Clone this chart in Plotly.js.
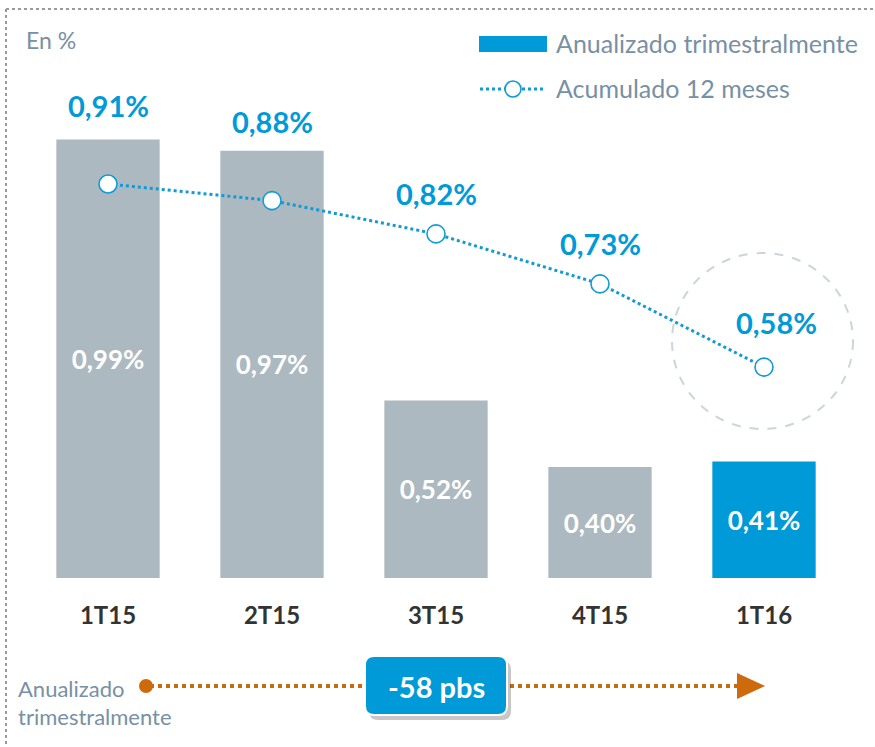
<!DOCTYPE html>
<html>
<head>
<meta charset="utf-8">
<script src="https://cdn.plot.ly/plotly-3.0.1.min.js"></script>
<style>html,body{margin:0;padding:0;background:#fff;}#chart{width:875px;height:747px;}</style>
</head>
<body>
<div id="chart"></div>
<script>
// ---- data ----
const categories = ['1T15', '2T15', '3T15', '4T15', '1T16'];
const quarterlyAnnualized = [0.99, 0.97, 0.52, 0.40, 0.41];
const cumulative12m = [0.91, 0.88, 0.82, 0.73, 0.58];
const seriesNames = ['Anualizado trimestralmente', 'Acumulado 12 meses'];
const changeLabel = '-58 pbs';
const unitLabel = 'En %';
const bottomLabelLines = ['Anualizado', 'trimestralmente'];

// ---- style ----
const GRAY_BAR = '#adb9c1';
const BLUE = '#009ad8';
const LINE_BLUE = '#109bd7';
const TEXT_GRAY = '#7890a5';
const ORANGE = '#cc6a0c';
const FONT = 'Lato, "Open Sans", sans-serif';
const AXIS_BASE = 0.2;
// label offsets in pixels (styling only)
const labelDy = [-78, -79, -40, -40, -45];
const labelDx = [0, 0, 0, 0, 12];

const fmt = v => v.toFixed(2).replace('.', ',') + '%';

// plot area geometry
const W = 875, H = 747;
const mL = 26, mR = 29, mT = 30, mB = 169;
const pw = W - mL - mR, ph = H - mT - mB;
const px = x => (x - mL) / pw;          // pixel x -> paper
const py = y => (H - mB - y) / ph;      // pixel y -> paper

const barColors = categories.map((c, i) => i === categories.length - 1 ? BLUE : GRAY_BAR);

const bars = {
  type: 'bar', x: categories,
  y: quarterlyAnnualized.map(v => v - AXIS_BASE), base: AXIS_BASE,
  name: seriesNames[0],
  marker: {color: barColors, line: {width: 0}},
  width: 0.63,
  text: quarterlyAnnualized.map(fmt),
  textposition: 'inside', insidetextanchor: 'middle', textangle: 0,
  constraintext: 'none',
  textfont: {family: FONT, size: 26, color: '#ffffff', weight: 'bold'},
  hoverinfo: 'skip', cliponaxis: false
};

const line = {
  type: 'scatter', mode: 'lines+markers', x: categories, y: cumulative12m,
  name: seriesNames[1],
  line: {color: LINE_BLUE, width: 3, dash: 'dot'},
  marker: {size: 18, color: '#ffffff', line: {color: LINE_BLUE, width: 1.6}},
  hoverinfo: 'skip', cliponaxis: false
};

const annotations = [];
cumulative12m.forEach((v, i) => {
  annotations.push({
    x: categories[i], y: v, xref: 'x', yref: 'y', text: '<b>' + fmt(v) + '</b>',
    showarrow: false, yshift: -labelDy[i], xshift: labelDx[i],
    font: {family: FONT, size: 29, color: BLUE}
  });
});
annotations.push({xref: 'paper', yref: 'paper', x: px(24), y: py(40), xanchor: 'left', yanchor: 'middle',
  text: unitLabel, showarrow: false, font: {family: FONT, size: 23, color: TEXT_GRAY}});
annotations.push({xref: 'paper', yref: 'paper', x: px(554), y: py(43), xanchor: 'left', yanchor: 'middle',
  text: seriesNames[0], showarrow: false, font: {family: FONT, size: 25, color: TEXT_GRAY}});
annotations.push({xref: 'paper', yref: 'paper', x: px(554), y: py(88), xanchor: 'left', yanchor: 'middle',
  text: seriesNames[1], showarrow: false, font: {family: FONT, size: 25, color: TEXT_GRAY}});
annotations.push({xref: 'paper', yref: 'paper', x: px(16), y: py(688), xanchor: 'left', yanchor: 'middle',
  text: bottomLabelLines[0], showarrow: false, font: {family: FONT, size: 22, color: TEXT_GRAY}});
annotations.push({xref: 'paper', yref: 'paper', x: px(16), y: py(716), xanchor: 'left', yanchor: 'middle',
  text: bottomLabelLines[1], showarrow: false, font: {family: FONT, size: 22, color: TEXT_GRAY}});
annotations.push({xref: 'paper', yref: 'paper', x: px(436), y: py(686), xanchor: 'center', yanchor: 'middle',
  text: '<b>' + changeLabel + '</b>', showarrow: false, font: {family: FONT, size: 29, color: '#ffffff'}});

function roundRect(x0, y0, x1, y1, r) {
  const X0 = px(x0), X1 = px(x1), Y0 = py(y0), Y1 = py(y1);
  const rx = r / pw, ry = r / ph;
  return `M ${X0 + rx} ${Y0} L ${X1 - rx} ${Y0} Q ${X1} ${Y0} ${X1} ${Y0 - ry} L ${X1} ${Y1 + ry} Q ${X1} ${Y1} ${X1 - rx} ${Y1} L ${X0 + rx} ${Y1} Q ${X0} ${Y1} ${X0} ${Y1 + ry} L ${X0} ${Y0 - ry} Q ${X0} ${Y0} ${X0 + rx} ${Y0} Z`;
}

const shapes = [
  // outer dotted frame
  {type: 'line', xref: 'paper', yref: 'paper', x0: px(6), x1: px(880), y0: py(9), y1: py(9), line: {color: '#9a9a9a', width: 2, dash: 'dot'}},
  {type: 'line', xref: 'paper', yref: 'paper', x0: px(6), x1: px(6), y0: py(9), y1: py(760), line: {color: '#9a9a9a', width: 2, dash: 'dot'}},
  // dashed highlight circle
  {type: 'circle', xref: 'paper', yref: 'paper', x0: px(672), x1: px(853), y0: py(253), y1: py(429), line: {color: '#ccd5dd', width: 2, dash: 'dash'}, layer: 'below'},
  // legend: bar
  {type: 'rect', xref: 'paper', yref: 'paper', x0: px(479), x1: px(547), y0: py(36), y1: py(52), fillcolor: BLUE, line: {width: 0}},
  // legend: line
  {type: 'line', xref: 'paper', yref: 'paper', x0: px(480), x1: px(545), y0: py(89), y1: py(89), line: {color: LINE_BLUE, width: 3, dash: 'dot'}},
  {type: 'circle', xref: 'paper', yref: 'paper', x0: px(505), x1: px(521), y0: py(81), y1: py(97), fillcolor: '#ffffff', line: {color: LINE_BLUE, width: 1.6}},
  // bottom orange dotted arrow
  {type: 'line', xref: 'paper', yref: 'paper', x0: px(150), x1: px(740), y0: py(686), y1: py(686), line: {color: ORANGE, width: 4, dash: 'dot'}},
  {type: 'circle', xref: 'paper', yref: 'paper', x0: px(139), x1: px(153), y0: py(679), y1: py(693), fillcolor: ORANGE, line: {width: 0}},
  {type: 'path', xref: 'paper', yref: 'paper', path: `M ${px(737)} ${py(673)} L ${px(765)} ${py(686)} L ${px(737)} ${py(699)} Z`, fillcolor: ORANGE, line: {width: 0}},
  // box shadow + box
  {type: 'path', xref: 'paper', yref: 'paper', path: roundRect(369, 661, 511, 720, 9), fillcolor: 'rgba(0,0,0,0.22)', line: {width: 0}},
  {type: 'path', xref: 'paper', yref: 'paper', path: roundRect(365, 656, 507, 715, 9), fillcolor: BLUE, line: {color: '#ffffff', width: 2}}
];

const layout = {
  width: W, height: H,
  margin: {l: mL, r: mR, t: mT, b: mB, pad: 0},
  paper_bgcolor: '#ffffff', plot_bgcolor: '#ffffff',
  showlegend: false,
  font: {family: FONT},
  xaxis: {type: 'category', range: [-0.5, 4.5], showgrid: false, zeroline: false, showline: false,
    ticks: '', ticklabelstandoff: 21,
    tickfont: {family: FONT, size: 24, color: '#333333', weight: 'bold'}, fixedrange: true},
  yaxis: {range: [AXIS_BASE, AXIS_BASE + ph / 555], visible: false, showgrid: false, zeroline: false, fixedrange: true},
  annotations: annotations,
  shapes: shapes
};

Plotly.newPlot('chart', [bars, line], layout, {displayModeBar: false, staticPlot: true});
</script>
</body>
</html>
